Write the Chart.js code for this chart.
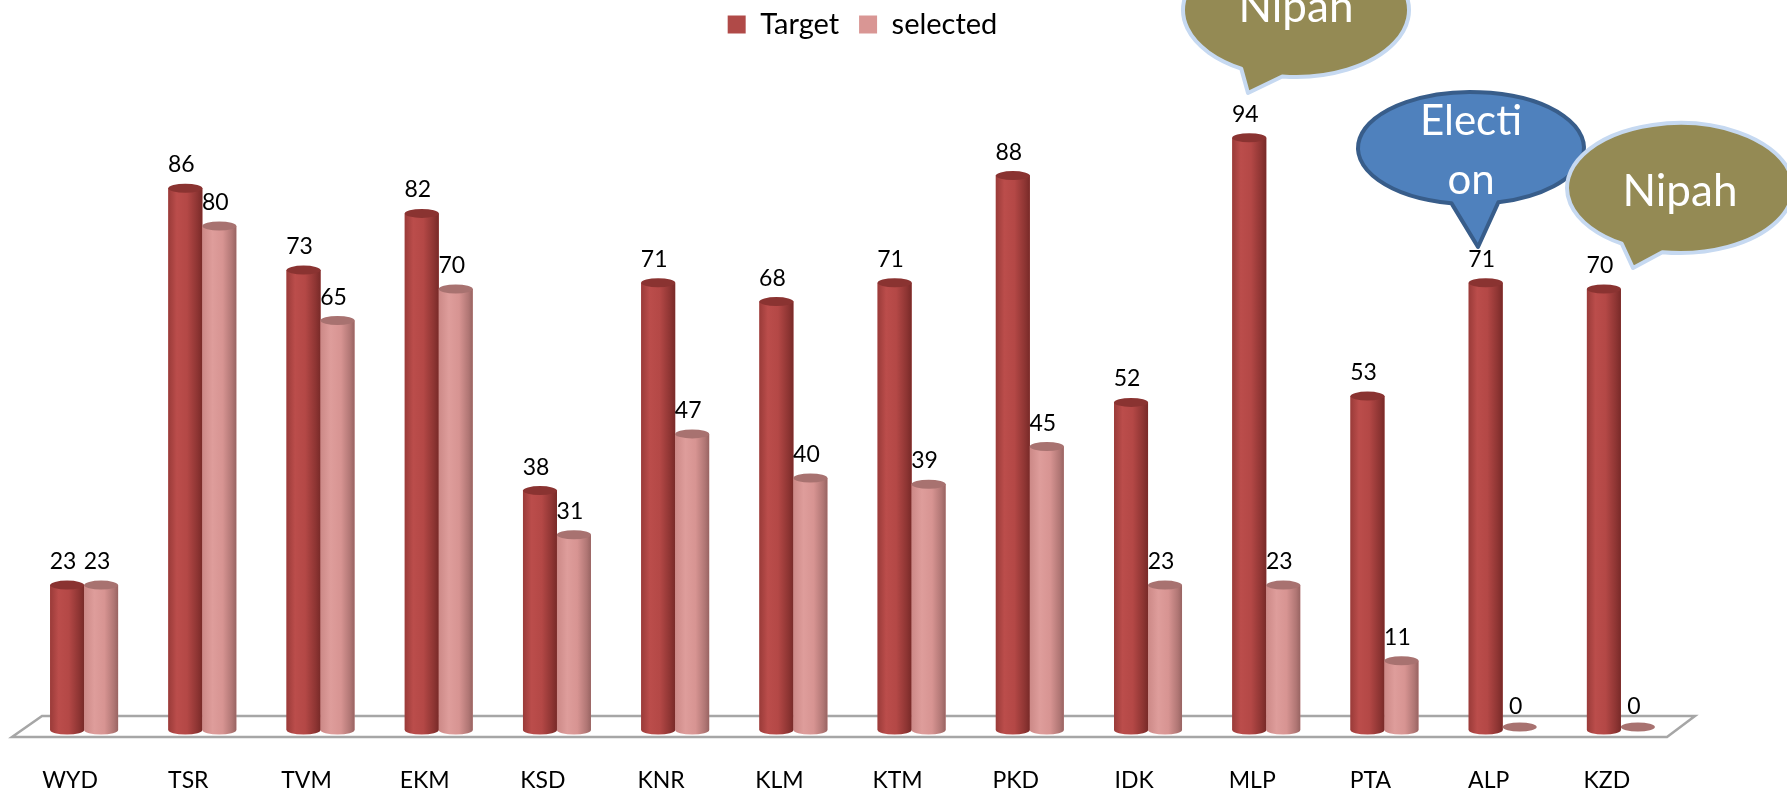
<!DOCTYPE html>
<html>
<head>
<meta charset="utf-8">
<script src="https://cdn.jsdelivr.net/npm/chart.js@4.4.1/dist/chart.umd.min.js"></script>
<style>
  html, body { margin: 0; padding: 0; background: #fff; }
  #wrap { width: 1787px; height: 793px; }
</style>
</head>
<body>
<div id="wrap"><canvas id="chart" width="1787" height="793"></canvas></div>
<script>
// Data
const districts = ['WYD', 'TSR', 'TVM', 'EKM', 'KSD', 'KNR', 'KLM', 'KTM', 'PKD', 'IDK', 'MLP', 'PTA', 'ALP', 'KZD'];
const target = [23, 86, 73, 82, 38, 71, 68, 71, 88, 52, 94, 53, 71, 70];
const selected = [23, 80, 65, 70, 31, 47, 40, 39, 45, 23, 23, 11, 0, 0];

// Cylinder shading per series
const shades = [
  { stops: [[0, '#9A3B39'], [0.25, '#BB4D4B'], [0.55, '#B44846'], [0.85, '#8E3533'], [1, '#782A28']], top: '#8A3331' },
  { stops: [[0, '#CC8987'], [0.3, '#DE9D9B'], [0.6, '#D79492'], [0.88, '#B07674'], [1, '#986462']], top: '#A87270' }
];

// Speech bubbles drawn over the chart
const callouts = [
  { lines: ['Nipah'], base: [22], cx: 1296, cy: 10, rx: 113, ry: 67, a1: 97, a2: 119, tip: [1248, 93], fill: '#948A54', stroke: '#C6D9F1', size: 44 },
  { lines: ['Electi', 'on'], base: [135, 194], cx: 1471, cy: 148, rx: 113, ry: 56, a1: 76, a2: 100, tip: [1478, 247], fill: '#4F81BD', stroke: '#385D8A', size: 42 },
  { lines: ['Nipah'], base: [206], cx: 1680, cy: 188, rx: 113, ry: 65, a1: 99, a2: 121, tip: [1633, 268], fill: '#948A54', stroke: '#C6D9F1', size: 44 }
];

function drawCylinder(ctx, bar, shade) {
  const w = bar.width;
  const x0 = bar.x - w / 2, x1 = bar.x + w / 2;
  const top = bar.y, base = bar.base;
  const ry = 4.5;
  if (base - top > 1) {
    const g = ctx.createLinearGradient(x0, 0, x1, 0);
    shade.stops.forEach(s => g.addColorStop(s[0], s[1]));
    ctx.fillStyle = g;
    ctx.beginPath();
    ctx.moveTo(x0, top);
    ctx.lineTo(x0, base);
    ctx.ellipse(bar.x, base, w / 2, ry, 0, Math.PI, 0, true);
    ctx.lineTo(x1, top);
    ctx.closePath();
    ctx.fill();
  }
  ctx.fillStyle = shade.top;
  ctx.beginPath();
  ctx.ellipse(bar.x, Math.min(top, base - 3), w / 2, ry, 0, 0, Math.PI * 2);
  ctx.fill();
}

const cylinderPlugin = {
  id: 'cylinders',
  beforeLayout(chart) {
    const lg = chart.legend;
    if (lg && !lg._fixed) {
      const fit = lg.fit;
      lg.fit = function () { fit.call(this); this.height = 100; };
      // item padding also pushes the row down, so pull it back up
      const draw = lg.draw;
      lg.draw = function () {
        this.ctx.save();
        this.ctx.translate(10, -10);
        draw.call(this);
        this.ctx.restore();
      };
      lg._fixed = true;
    }
  },
  beforeDatasetsDraw(chart) {
    const { ctx, chartArea } = chart;
    const yb = chart.scales.y.getPixelForValue(0);
    ctx.save();
    ctx.beginPath();
    ctx.moveTo(chartArea.left + 17, yb - 14);
    ctx.lineTo(chartArea.right + 15, yb - 14);
    ctx.lineTo(chartArea.right - 13, yb + 7);
    ctx.lineTo(chartArea.left - 13, yb + 7);
    ctx.closePath();
    ctx.fillStyle = '#ffffff';
    ctx.fill();
    ctx.lineWidth = 2.5;
    ctx.strokeStyle = '#A6A6A6';
    ctx.stroke();
    ctx.restore();
  },
  afterDatasetsDraw(chart) {
    const ctx = chart.ctx;
    ctx.save();
    chart.data.datasets.forEach((ds, i) => {
      const meta = chart.getDatasetMeta(i);
      meta.data.forEach(bar => drawCylinder(ctx, bar, shades[i]));
    });
    ctx.font = '23px Lato';
    ctx.fillStyle = '#000';
    ctx.textAlign = 'center';
    ctx.textBaseline = 'alphabetic';
    chart.data.datasets.forEach((ds, i) => {
      const meta = chart.getDatasetMeta(i);
      meta.data.forEach((bar, j) => {
        ctx.fillText(String(ds.data[j]), bar.x - 4, bar.y - 16);
      });
    });
    ctx.restore();
  },
  afterDraw(chart) {
    const ctx = chart.ctx;
    ctx.save();
    callouts.forEach(c => {
      const a1 = c.a1 * Math.PI / 180, a2 = c.a2 * Math.PI / 180;
      ctx.beginPath();
      ctx.ellipse(c.cx, c.cy, c.rx, c.ry, 0, a2, a1 + Math.PI * 2);
      ctx.lineTo(c.tip[0], c.tip[1]);
      ctx.closePath();
      ctx.fillStyle = c.fill;
      ctx.fill();
      ctx.lineWidth = 4;
      ctx.lineJoin = 'round';
      ctx.strokeStyle = c.stroke;
      ctx.stroke();
      ctx.fillStyle = '#ffffff';
      ctx.font = c.size + 'px Lato';
      ctx.textAlign = 'center';
      ctx.textBaseline = 'alphabetic';
      c.lines.forEach((t, k) => ctx.fillText(t, c.cx, c.base[k]));
    });
    ctx.restore();
  }
};

new Chart(document.getElementById('chart'), {
  type: 'bar',
  data: {
    labels: districts,
    datasets: [
      { label: 'Target', data: target, backgroundColor: '#B04A48', borderWidth: 0 },
      { label: 'selected', data: selected, backgroundColor: '#D99694', borderWidth: 0 }
    ]
  },
  options: {
    responsive: false,
    animation: false,
    devicePixelRatio: 1,
    layout: { padding: { left: 25, right: 107, top: 0, bottom: 0 } },
    datasets: { bar: { categoryPercentage: 0.575, barPercentage: 1 } },
    scales: {
      x: {
        grid: { display: false, drawTicks: false },
        border: { display: false },
        ticks: { color: '#000', font: { family: 'Lato', size: 23 }, padding: 37, labelOffset: -14 },
        afterFit(scale) { scale.height = 63; }
      },
      y: { display: false, min: 0, max: 100 }
    },
    plugins: {
      legend: {
        position: 'top',
        labels: { color: '#000', font: { family: 'Lato', size: 29 }, boxWidth: 18, boxHeight: 18, padding: 20 }
      },
      tooltip: { enabled: false }
    }
  },
  plugins: [cylinderPlugin]
});
</script>
</body>
</html>
